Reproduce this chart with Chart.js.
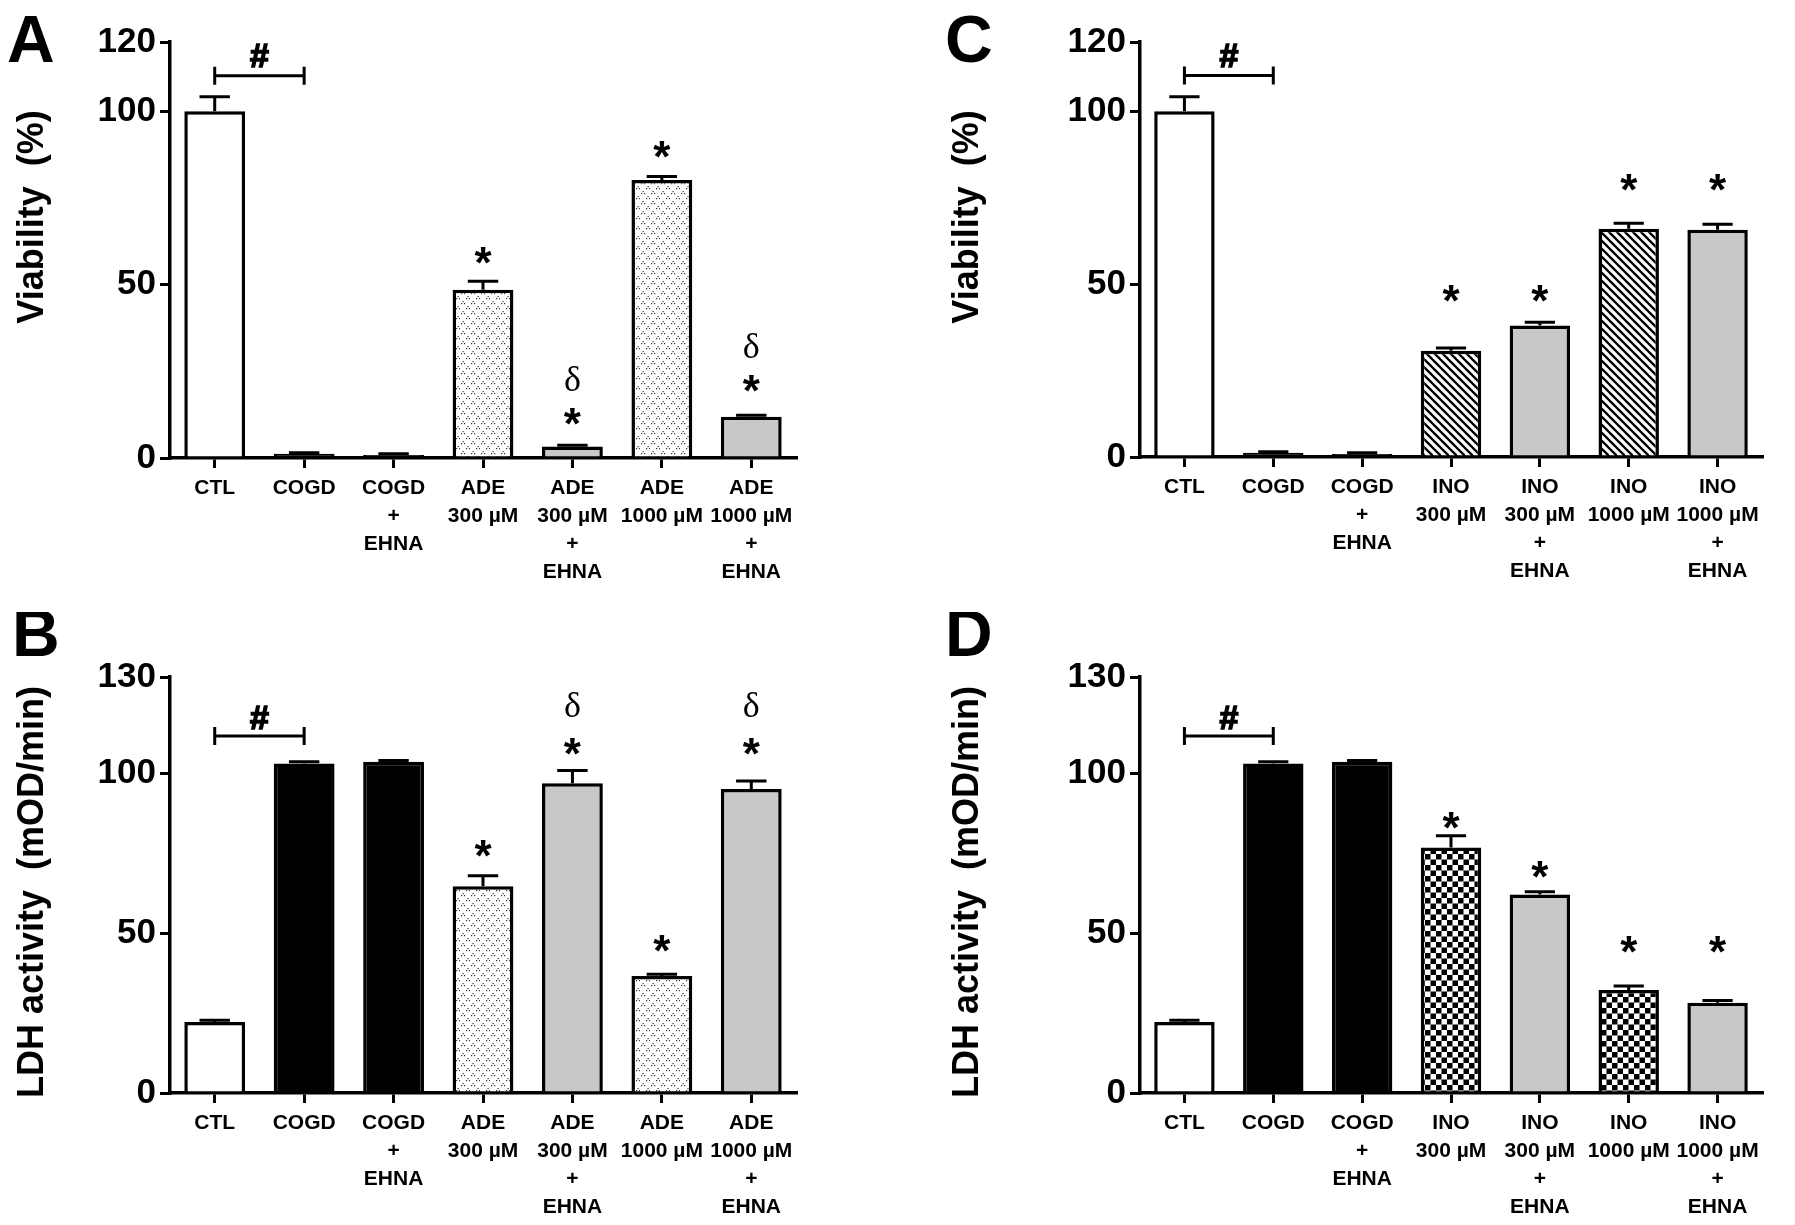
<!DOCTYPE html>
<html>
<head>
<meta charset="utf-8">
<script src="https://cdn.jsdelivr.net/npm/chart.js@4.4.1/dist/chart.umd.min.js"></script>
<style>
  html, body { margin: 0; padding: 0; background: #fff; }
  #wrap { position: relative; width: 1795px; height: 1225px; overflow: hidden; background: #fff; }
  canvas { position: absolute; }
</style>
</head>
<body>
<div id="wrap">
  <canvas id="cA" width="897" height="612" style="left:0px;top:0px"></canvas>
  <canvas id="cC" width="898" height="612" style="left:897px;top:0px"></canvas>
  <canvas id="cB" width="897" height="613" style="left:0px;top:612px"></canvas>
  <canvas id="cD" width="898" height="613" style="left:897px;top:612px"></canvas>
</div>
<script>
// ---------------- DATA ----------------
const categoriesADE = [
  ['CTL'], ['COGD'], ['COGD', '+', 'EHNA'], ['ADE', '300 µM'],
  ['ADE', '300 µM', '+', 'EHNA'], ['ADE', '1000 µM'], ['ADE', '1000 µM', '+', 'EHNA']
];
const categoriesINO = [
  ['CTL'], ['COGD'], ['COGD', '+', 'EHNA'], ['INO', '300 µM'],
  ['INO', '300 µM', '+', 'EHNA'], ['INO', '1000 µM'], ['INO', '1000 µM', '+', 'EHNA']
];

const viabilityADE    = [100, 1.2, 0.9, 48.5, 3.3, 80.2, 11.9];
const viabilityADEErr = [4.2, 0.3, 0.3, 2.5, 0.4, 1.0, 0.4];
const viabilityINO    = [100, 1.2, 0.9, 30.7, 38.0, 66.0, 65.7];
const viabilityINOErr = [4.2, 0.3, 0.3, 0.8, 1.0, 1.6, 1.6];

const ldhADE    = [22.2, 103.0, 103.5, 64.6, 96.8, 36.6, 95.0];
const ldhADEErr = [0.5, 0.5, 0.4, 3.3, 4.0, 0.5, 2.5];
const ldhINO    = [22.2, 103.0, 103.5, 76.7, 62.0, 32.2, 28.2];
const ldhINOErr = [0.5, 0.5, 0.4, 3.7, 0.9, 1.2, 0.7];

const viabilityTicks = [0, 50, 100, 120];
const ldhTicks = [0, 50, 100, 130];

const viabilityTitle = 'Viability  (%)';
const ldhTitle = 'LDH activity  (mOD/min)';

// fill kinds per bar
const fillsA = ['white', 'black', 'black', 'dots', 'gray', 'dots', 'gray'];
const fillsB = ['white', 'black', 'black', 'dots', 'gray', 'dots', 'gray'];
const fillsC = ['white', 'black', 'black', 'hatch', 'gray', 'hatch', 'gray'];
const fillsD = ['white', 'black', 'black', 'check', 'gray', 'check', 'gray'];

// significance marks: category index, symbol, value (visual centre)
const marksA = [
  { i: 3, s: '*', v: 59 }, { i: 4, s: 'δ', v: 23 }, { i: 4, s: '*', v: 12.5 },
  { i: 5, s: '*', v: 89.5 }, { i: 6, s: 'δ', v: 32.5 }, { i: 6, s: '*', v: 22 }
];
const marksC = [
  { i: 3, s: '*', v: 48 }, { i: 4, s: '*', v: 48 }, { i: 5, s: '*', v: 80 }, { i: 6, s: '*', v: 80 }
];
const marksB = [
  { i: 3, s: '*', v: 77 }, { i: 4, s: 'δ', v: 121.4 }, { i: 4, s: '*', v: 109 },
  { i: 5, s: '*', v: 47.5 }, { i: 6, s: 'δ', v: 121.4 }, { i: 6, s: '*', v: 109 }
];
const marksD = [
  { i: 3, s: '*', v: 85.7 }, { i: 4, s: '*', v: 70.5 }, { i: 5, s: '*', v: 47 }, { i: 6, s: '*', v: 47 }
];
// "#" bracket between CTL (0) and COGD (1): bracket value, symbol value
const bracketViability = { from: 0, to: 1, v: 110.3, sv: 116.2 };
const bracketLDH = { from: 0, to: 1, v: 111.6, sv: 117.5 };

// ---------------- STYLE ----------------
const SANS = '"Liberation Sans", Arial, Helvetica, sans-serif';
const SERIF = '"Liberation Serif", "Times New Roman", serif';
const LW = 3.5;

function makePattern(kind) {
  const c = document.createElement('canvas');
  let ctx;
  if (kind === 'dots') {
    c.width = 10; c.height = 10; ctx = c.getContext('2d');
    ctx.fillStyle = '#fff'; ctx.fillRect(0, 0, 10, 10);
    ctx.fillStyle = '#333';
    [[1, 1], [6, 6]].forEach(([x, y]) => {
      ctx.fillRect(x, y + 2, 1.2, 1.2);
      ctx.fillRect(x + 1.5, y, 1.2, 1.2);
      ctx.fillRect(x + 3, y + 2, 1.2, 1.2);
    });
  } else if (kind === 'hatch') {
    const t = 8;
    c.width = t; c.height = t; ctx = c.getContext('2d');
    ctx.fillStyle = '#fff'; ctx.fillRect(0, 0, t, t);
    ctx.strokeStyle = '#000'; ctx.lineWidth = 2.3;
    for (const x0 of [-t, 0, t]) {
      ctx.beginPath(); ctx.moveTo(x0 - 1, -1); ctx.lineTo(x0 + t + 1, t + 1); ctx.stroke();
    }
  } else if (kind === 'check') {
    c.width = 11; c.height = 11; ctx = c.getContext('2d');
    ctx.fillStyle = '#fff'; ctx.fillRect(0, 0, 11, 11);
    ctx.fillStyle = '#000';
    ctx.fillRect(0, 0, 5.5, 5.5); ctx.fillRect(5.5, 5.5, 5.5, 5.5);
  }
  return c.getContext('2d').createPattern(c, 'repeat');
}
const FILL = {
  white: '#ffffff', black: '#000000', gray: '#c8c8c8',
  dots: makePattern('dots'), hatch: makePattern('hatch'), check: makePattern('check')
};

// text helpers: draw symbol with its visual centre at (x, y)
function drawSymbol(ctx, s, x, y) {
  ctx.save();
  ctx.fillStyle = '#000';
  ctx.strokeStyle = '#000';
  ctx.textAlign = 'center';
  ctx.textBaseline = 'alphabetic';
  if (s === '*') { ctx.font = 'bold 44px ' + SANS; ctx.fillText(s, x, y + 0.56 * 44); }
  else if (s === 'δ') { ctx.font = '36px ' + SERIF; ctx.fillText(s, x, y + 0.35 * 36); }
  else {
    ctx.font = 'bold 34px ' + SANS;
    ctx.lineWidth = 1.6;
    ctx.fillText(s, x, y + 0.36 * 34);
    ctx.strokeText(s, x, y + 0.36 * 34);
  }
  ctx.restore();
}

const annotPlugin = {
  id: 'annot',
  afterDatasetsDraw(chart) {
    const o = chart.options.plugins.annot;
    const ctx = chart.ctx;
    const ys = chart.scales.y;
    const meta = chart.getDatasetMeta(0);
    const vals = chart.data.datasets[0].data;
    // error bars (upper only)
    ctx.save();
    ctx.strokeStyle = '#000';
    ctx.lineWidth = 3;
    o.err.forEach((e, i) => {
      const bar = meta.data[i];
      const x = bar.x;
      const yTop = ys.getPixelForValue(vals[i]);
      const yErr = ys.getPixelForValue(vals[i] + e);
      const hw = bar.width / 4;
      ctx.beginPath();
      ctx.moveTo(x, yTop); ctx.lineTo(x, yErr);
      ctx.moveTo(x - hw, yErr); ctx.lineTo(x + hw, yErr);
      ctx.stroke();
    });
    ctx.restore();
  },
  afterDraw(chart) {
    const o = chart.options.plugins.annot;
    const ctx = chart.ctx;
    const xs = chart.scales.x, ys = chart.scales.y;
    // bracket
    const b = o.bracket;
    const x1 = xs.getPixelForValue(b.from), x2 = xs.getPixelForValue(b.to);
    const yb = ys.getPixelForValue(b.v);
    ctx.save();
    ctx.strokeStyle = '#000'; ctx.lineWidth = 3;
    ctx.beginPath();
    ctx.moveTo(x1, yb); ctx.lineTo(x2, yb);
    ctx.moveTo(x1, yb - 9); ctx.lineTo(x1, yb + 9);
    ctx.moveTo(x2, yb - 9); ctx.lineTo(x2, yb + 9);
    ctx.stroke();
    ctx.restore();
    drawSymbol(ctx, '#', (x1 + x2) / 2, ys.getPixelForValue(b.sv));
    // marks
    o.marks.forEach(m => drawSymbol(ctx, m.s, xs.getPixelForValue(m.i), ys.getPixelForValue(m.v)));
    // y title
    ctx.save();
    ctx.fillStyle = '#000';
    ctx.font = 'bold 36px ' + SANS;
    ctx.textAlign = 'center';
    ctx.textBaseline = 'middle';
    ctx.translate(o.titleX, o.titleY);
    ctx.rotate(-Math.PI / 2);
    ctx.fillText(o.title, 0, 0);
    ctx.restore();
    // panel letter
    ctx.save();
    ctx.fillStyle = '#000';
    ctx.font = 'bold 66px ' + SANS;
    ctx.textAlign = 'left';
    ctx.textBaseline = 'alphabetic';
    ctx.fillText(o.letter, o.letterX, o.letterY);
    ctx.restore();
  }
};

function makePanel(id, p) {
  const canvas = document.getElementById(id);
  const W = canvas.width, H = canvas.height;
  new Chart(canvas, {
    type: 'bar',
    data: {
      labels: p.labels,
      datasets: [{
        data: p.values,
        backgroundColor: p.fills.map(f => FILL[f]),
        borderColor: '#000',
        borderWidth: LW,
        borderSkipped: 'start',
        categoryPercentage: 1.0,
        barPercentage: 0.68
      }]
    },
    options: {
      responsive: false,
      animation: false,
      devicePixelRatio: 1,
      layout: { padding: { left: 0, top: p.top, right: W - p.right, bottom: 0 } },
      plugins: {
        legend: { display: false },
        tooltip: { enabled: false },
        annot: {
          err: p.err, marks: p.marks, bracket: p.bracket,
          title: p.title, titleX: p.titleX, titleY: p.titleY,
          letter: p.letter, letterX: p.letterX, letterY: p.letterY
        }
      },
      scales: {
        x: {
          type: 'category',
          offset: true,
          afterFit: s => { s.height = H - p.bottom; },
          grid: { display: true, offset: false, drawOnChartArea: false, drawTicks: true,
                  tickLength: 10, tickWidth: 3, tickColor: '#000', color: '#000', lineWidth: 3 },
          border: { display: true, color: '#000', width: LW },
          ticks: {
            color: '#000', padding: 6, maxRotation: 0, minRotation: 0, autoSkip: false,
            font: { family: SANS, size: 21, weight: 'bold', lineHeight: 1.33 }
          }
        },
        y: {
          type: 'linear',
          min: 0, max: p.ticks[p.ticks.length - 1],
          afterFit: s => { s.width = p.left; },
          afterBuildTicks: s => { s.ticks = p.ticks.map(v => ({ value: v })); },
          grid: { display: true, drawOnChartArea: false, drawTicks: true,
                  tickLength: 10, tickWidth: 3, tickColor: '#000', color: '#000', lineWidth: 3 },
          border: { display: true, color: '#000', width: LW },
          ticks: {
            color: '#000', padding: 4,
            font: { family: SANS, size: 35, weight: 'bold' },
            callback: v => String(v)
          }
        }
      }
    },
    plugins: [annotPlugin]
  });
}

makePanel('cA', {
  labels: categoriesADE, values: viabilityADE, err: viabilityADEErr, fills: fillsA,
  marks: marksA, bracket: bracketViability, ticks: viabilityTicks, title: viabilityTitle,
  left: 170, right: 796, top: 42, bottom: 458,
  titleX: 33, titleY: 217, letter: 'A', letterX: 7, letterY: 62
});
makePanel('cC', {
  labels: categoriesINO, values: viabilityINO, err: viabilityINOErr, fills: fillsC,
  marks: marksC, bracket: bracketViability, ticks: viabilityTicks, title: viabilityTitle,
  left: 243, right: 865, top: 42, bottom: 457,
  titleX: 71, titleY: 217, letter: 'C', letterX: 48, letterY: 62
});
makePanel('cB', {
  labels: categoriesADE, values: ldhADE, err: ldhADEErr, fills: fillsB,
  marks: marksB, bracket: bracketLDH, ticks: ldhTicks, title: ldhTitle,
  left: 170, right: 796, top: 65, bottom: 481,
  titleX: 33, titleY: 280, letter: 'B', letterX: 12, letterY: 44
});
makePanel('cD', {
  labels: categoriesINO, values: ldhINO, err: ldhINOErr, fills: fillsD,
  marks: marksD, bracket: bracketLDH, ticks: ldhTicks, title: ldhTitle,
  left: 243, right: 865, top: 65, bottom: 481,
  titleX: 71, titleY: 280, letter: 'D', letterX: 48, letterY: 44
});
</script>
</body>
</html>
